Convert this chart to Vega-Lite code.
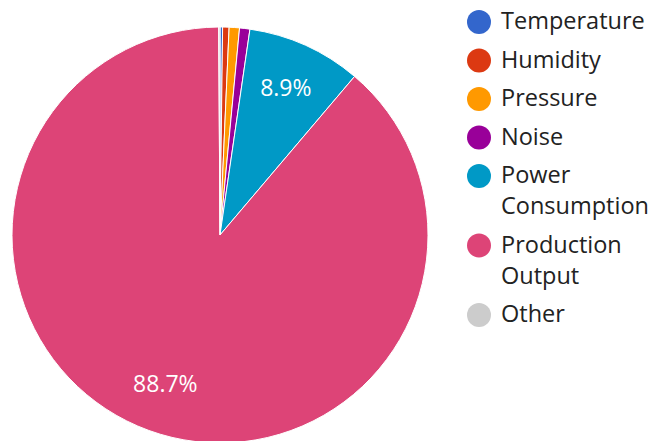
{
  "$schema": "https://vega.github.io/schema/vega-lite/v6.json",
  "width": 440,
  "height": 470,
  "padding": 0,
  "autosize": {"type": "pad"},
  "background": "white",
  "config": {"view": {"stroke": null}, "font": "Open Sans", "style": {"guide-label": {"lineHeight": 31}}},
  "data": {"values": [
    {"idx": 1, "metric": "Temperature", "share": 0.002},
    {"idx": 2, "metric": "Humidity", "share": 0.005},
    {"idx": 3, "metric": "Pressure", "share": 0.008},
    {"idx": 4, "metric": "Noise", "share": 0.008},
    {"idx": 5, "metric": "Power Consumption", "share": 0.089},
    {"idx": 6, "metric": "Production Output", "share": 0.887},
    {"idx": 7, "metric": "Other", "share": 0.001}
  ]},
  "encoding": {
    "theta": {"field": "share", "type": "quantitative", "stack": true},
    "order": {"field": "idx", "type": "quantitative"},
    "color": {
      "field": "metric", "type": "nominal",
      "scale": {
        "domain": ["Temperature", "Humidity", "Pressure", "Noise", "Power Consumption", "Production Output", "Other"],
        "range": ["#3366CC", "#DC3912", "#FF9900", "#990099", "#0099C6", "#DD4477", "#CCCCCC"]
      },
      "legend": {
        "title": null,
        "orient": "none",
        "legendX": 467,
        "legendY": 10,
        "symbolType": "circle",
        "symbolSize": 576,
        "symbolStrokeWidth": 0,
        "labelFontSize": 23.5,
        "labelColor": "#222222",
        "labelOffset": 10,
        "labelLimit": 300,
        "rowPadding": 14.5,
        "labelExpr": "datum.label == 'Power Consumption' ? ['Power', 'Consumption'] : datum.label == 'Production Output' ? ['Production', 'Output'] : datum.label"
      }
    }
  },
  "layer": [
    {"mark": {"type": "arc", "radius": 208, "stroke": "white", "strokeWidth": 1}},
    {
      "mark": {"type": "text", "radius": 160, "fontSize": 23, "color": "white"},
      "encoding": {
        "text": {"condition": {"test": "datum.share > 0.05", "field": "share", "format": ".1%"}, "value": ""},
        "color": {"value": "white"}
      }
    }
  ]
}
